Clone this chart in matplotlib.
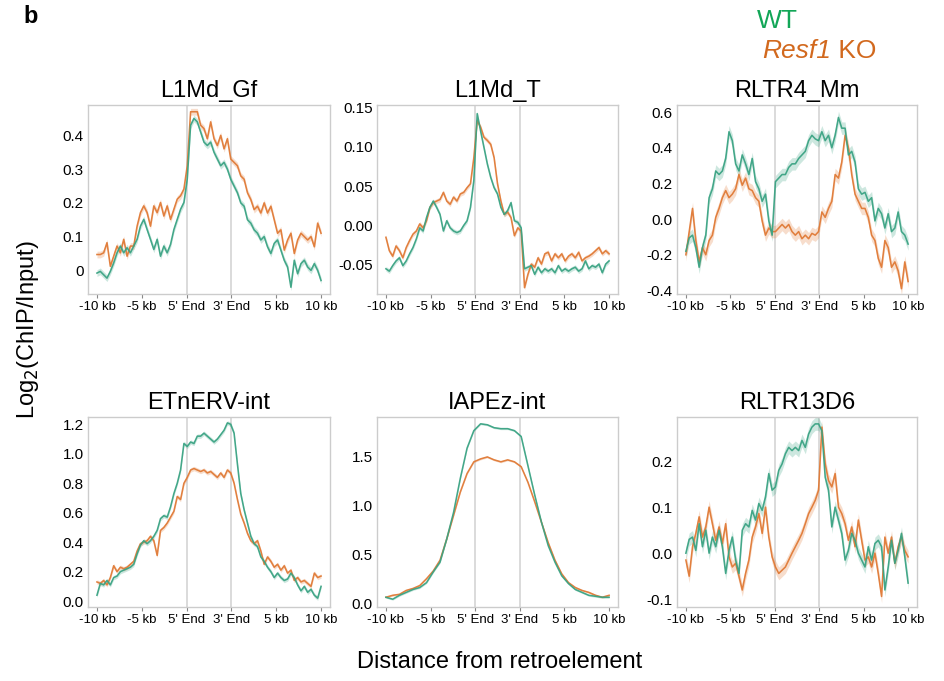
import numpy as np
import matplotlib
matplotlib.use("Agg")
import matplotlib.pyplot as plt
from matplotlib.text import Annotation

plt.rcParams['font.family'] = ['Liberation Sans', 'DejaVu Sans']

tick_labels = ["-10 kb", "-5 kb", "5' End", "3' End", "5 kb", "10 kb"]
titles = ["L1Md_Gf", "L1Md_T", "RLTR4_Mm", "ETnERV-int", "IAPEz-int", "RLTR13D6"]

gf_wt = [-0.008, -0.003, -0.013, -0.023, -0.003, 0.022, 0.052, 0.072, 0.052, 0.067, 0.052, 0.072,
         0.092, 0.131, 0.151, 0.121, 0.092, 0.062, 0.092, 0.042, 0.072, 0.052, 0.077, 0.121, 0.151,
         0.181, 0.201, 0.271, 0.43, 0.45, 0.44, 0.41, 0.38, 0.37, 0.38, 0.35, 0.33, 0.31, 0.32, 0.30,
         0.27, 0.25, 0.23, 0.20, 0.19, 0.15, 0.14, 0.12, 0.11, 0.09, 0.10, 0.07, 0.05, 0.08, 0.09,
         0.06, 0.03, 0.01, -0.05, 0.03, -0.01, 0.02, 0.03, 0.01, 0.00, 0.02, 0.00, -0.03]
gf_ko = [0.047, 0.047, 0.052, 0.082, 0.012, 0.042, 0.072, 0.052, 0.092, 0.042, 0.072, 0.072,
         0.131, 0.171, 0.191, 0.171, 0.131, 0.191, 0.171, 0.201, 0.161, 0.191, 0.151, 0.181, 0.211,
         0.221, 0.241, 0.31, 0.47, 0.47, 0.47, 0.43, 0.42, 0.39, 0.44, 0.39, 0.37, 0.40, 0.36, 0.39,
         0.33, 0.32, 0.31, 0.28, 0.27, 0.23, 0.21, 0.18, 0.19, 0.17, 0.20, 0.17, 0.19, 0.15, 0.11,
         0.12, 0.06, 0.09, 0.11, 0.05, 0.09, 0.11, 0.10, 0.09, 0.10, 0.07, 0.14, 0.11]

t_wt = [-0.055, -0.058, -0.051, -0.045, -0.041, -0.051, -0.045, -0.036, -0.028, -0.017, -0.003,
        -0.007, 0.010, 0.023, 0.031, 0.023, 0.014, -0.007, 0.006, -0.003, -0.007, -0.009, -0.007,
        0.000, 0.006, 0.023, 0.057, 0.142, 0.120, 0.099, 0.078, 0.061, 0.048, 0.040, 0.023, 0.014,
        0.019, 0.029, 0.006, 0.004, -0.003, -0.055, -0.053, -0.051, -0.062, -0.053, -0.060, -0.055,
        -0.058, -0.055, -0.060, -0.051, -0.058, -0.055, -0.058, -0.055, -0.053, -0.058, -0.055,
        -0.045, -0.055, -0.051, -0.053, -0.049, -0.060, -0.049, -0.045]
t_ko = [-0.015, -0.032, -0.039, -0.026, -0.032, -0.041, -0.028, -0.019, -0.011, -0.007, 0.002,
        -0.003, 0.006, 0.023, 0.029, 0.031, 0.033, 0.042, 0.031, 0.027, 0.036, 0.031, 0.040, 0.042,
        0.048, 0.053, 0.086, 0.133, 0.125, 0.112, 0.108, 0.103, 0.086, 0.053, 0.031, 0.014, 0.017,
        0.010, -0.013, -0.003, -0.007, -0.079, -0.062, -0.049, -0.053, -0.041, -0.049, -0.036,
        -0.034, -0.045, -0.036, -0.041, -0.036, -0.045, -0.039, -0.036, -0.041, -0.034, -0.045,
        -0.041, -0.039, -0.036, -0.032, -0.028, -0.036, -0.032, -0.036]

r4_wt = [-0.18, -0.105, -0.09, -0.16, -0.27, -0.16, -0.09, 0.12, 0.17, 0.27, 0.25, 0.27, 0.34,
         0.49, 0.44, 0.31, 0.27, 0.36, 0.31, 0.25, 0.34, 0.21, 0.17, 0.10, 0.14, -0.01, -0.09, 0.21,
         0.23, 0.25, 0.25, 0.29, 0.31, 0.31, 0.34, 0.36, 0.38, 0.44, 0.47, 0.45, 0.44, 0.49, 0.44,
         0.47, 0.40, 0.47, 0.57, 0.51, 0.51, 0.36, 0.38, 0.32, 0.17, 0.14, 0.15, 0.10, 0.12, -0.01,
         0.06, 0.03, -0.05, 0.03, -0.07, -0.05, 0.04, -0.07, -0.09, -0.14]
r4_ko = [-0.20, -0.07, 0.06, -0.12, -0.24, -0.16, -0.20, -0.12, -0.09, 0.01, 0.06, 0.12, 0.16,
         0.12, 0.14, 0.17, 0.25, 0.19, 0.23, 0.17, 0.16, 0.12, 0.10, -0.01, -0.09, -0.05, -0.07,
         -0.07, -0.05, -0.03, -0.05, -0.03, -0.07, -0.09, -0.07, -0.11, -0.09, -0.11, -0.08, -0.09,
         -0.07, 0.04, 0.01, 0.06, 0.10, 0.25, 0.23, 0.32, 0.47, 0.40, 0.25, 0.14, 0.10, 0.06, 0.06,
         0.01, -0.09, -0.12, -0.22, -0.27, -0.12, -0.16, -0.27, -0.24, -0.29, -0.39, -0.24, -0.35]

etn_wt = [0.04, 0.12, 0.11, 0.14, 0.11, 0.16, 0.17, 0.20, 0.21, 0.22, 0.23, 0.25, 0.32, 0.38,
          0.41, 0.39, 0.41, 0.44, 0.48, 0.56, 0.58, 0.57, 0.64, 0.73, 0.80, 0.89, 1.07, 1.05, 1.08,
          1.07, 1.12, 1.12, 1.14, 1.12, 1.10, 1.08, 1.10, 1.13, 1.16, 1.21, 1.20, 1.14, 0.93, 0.73,
          0.62, 0.53, 0.44, 0.39, 0.37, 0.30, 0.27, 0.23, 0.20, 0.16, 0.19, 0.16, 0.14, 0.15, 0.19,
          0.16, 0.11, 0.07, 0.10, 0.06, 0.08, 0.04, 0.02, 0.10]
etn_ko = [0.13, 0.12, 0.14, 0.11, 0.16, 0.24, 0.20, 0.23, 0.22, 0.23, 0.25, 0.27, 0.34, 0.39,
          0.40, 0.41, 0.44, 0.41, 0.31, 0.48, 0.50, 0.53, 0.57, 0.61, 0.71, 0.69, 0.80, 0.84, 0.89,
          0.90, 0.89, 0.88, 0.89, 0.87, 0.88, 0.86, 0.84, 0.87, 0.84, 0.89, 0.87, 0.80, 0.69, 0.59,
          0.53, 0.46, 0.41, 0.39, 0.41, 0.34, 0.25, 0.30, 0.27, 0.23, 0.25, 0.21, 0.24, 0.19, 0.21,
          0.14, 0.16, 0.13, 0.14, 0.12, 0.10, 0.19, 0.16, 0.17]

iap_wt = [0.06, 0.04, 0.08, 0.11, 0.14, 0.16, 0.21, 0.32, 0.42, 0.66, 0.93, 1.28, 1.59, 1.77,
          1.84, 1.83, 1.80, 1.79, 1.79, 1.77, 1.71, 1.41, 1.11, 0.83, 0.59, 0.42, 0.28, 0.20, 0.14,
          0.11, 0.08, 0.07, 0.06, 0.06]
iap_ko = [0.06, 0.08, 0.09, 0.13, 0.15, 0.18, 0.25, 0.33, 0.44, 0.66, 0.90, 1.14, 1.33, 1.45,
          1.48, 1.50, 1.47, 1.45, 1.47, 1.45, 1.40, 1.24, 1.04, 0.83, 0.62, 0.44, 0.30, 0.21, 0.16,
          0.13, 0.11, 0.08, 0.06, 0.08]

r13_wt = [0.00, 0.03, 0.035, 0.006, 0.064, 0.014, 0.05, 0.00, 0.035, 0.014, 0.05, 0.014, -0.044,
          0.006, 0.035, -0.015, -0.044, 0.05, 0.064, 0.057, 0.093, 0.072, 0.108, 0.093, 0.122,
          0.173, 0.137, 0.144, 0.18, 0.194, 0.216, 0.23, 0.223, 0.23, 0.223, 0.245, 0.23, 0.259,
          0.274, 0.281, 0.281, 0.266, 0.165, 0.137, 0.057, 0.100, 0.072, 0.043, -0.015, 0.006,
          0.043, 0.028, 0.00, -0.015, -0.03, 0.014, -0.015, 0.021, 0.028, 0.014, -0.08, -0.03,
          0.028, -0.022, 0.006, 0.043, -0.008, -0.065]
r13_ko = [-0.015, -0.05, 0.014, 0.043, 0.079, 0.035, 0.057, 0.100, 0.064, 0.028, 0.057, 0.021,
          0.064, -0.008, -0.03, -0.022, -0.05, -0.08, -0.044, -0.015, 0.035, 0.057, 0.086, 0.043,
          0.100, 0.035, -0.008, -0.03, -0.044, -0.037, -0.03, -0.015, 0.00, 0.014, 0.028, 0.043,
          0.064, 0.086, 0.100, 0.115, 0.137, 0.274, 0.194, 0.158, 0.144, 0.173, 0.100, 0.086,
          0.064, 0.028, 0.057, 0.014, 0.072, 0.028, -0.015, -0.008, -0.03, 0.00, -0.044, -0.094,
          0.035, 0.00, 0.035, -0.022, 0.014, 0.035, 0.006, -0.008]

wt_series = [gf_wt, t_wt, r4_wt, etn_wt, iap_wt, r13_wt]
ko_series = [gf_ko, t_ko, r4_ko, etn_ko, iap_ko, r13_ko]
band_half = [0.010, 0.003, 0.035, 0.015, 0.010, 0.014]
ylims = [(-0.07, 0.49), (-0.087, 0.153), (-0.42, 0.64), (-0.04, 1.25), (-0.04, 1.91), (-0.117, 0.296)]
yticks = [[0, 0.1, 0.2, 0.3, 0.4], [-0.05, 0, 0.05, 0.10, 0.15], [-0.4, -0.2, 0, 0.2, 0.4, 0.6],
          [0, 0.2, 0.4, 0.6, 0.8, 1.0, 1.2], [0, 0.5, 1.0, 1.5], [-0.1, 0, 0.1, 0.2]]
ytlabels = [["0", "0.1", "0.2", "0.3", "0.4"], ["-0.05", "0.00", "0.05", "0.10", "0.15"],
            ["-0.4", "-0.2", "0.0", "0.2", "0.4", "0.6"],
            ["0.0", "0.2", "0.4", "0.6", "0.8", "1.0", "1.2"], ["0.0", "0.5", "1.0", "1.5"],
            ["-0.1", "0.0", "0.1", "0.2"]]

WT_C = "#3aa383"
KO_C = "#e07a36"
W, H = 944, 681
fig = plt.figure(figsize=(W / 100, H / 100), dpi=100)

lefts = [88, 377, 677]
widths = [242, 241, 240]
tops = [105, 417]
heights = [189, 190]

for i in range(6):
    r, c = divmod(i, 3)
    ax = fig.add_axes([lefts[c] / W, 1 - (tops[r] + heights[r]) / H, widths[c] / W, heights[r] / H])
    for s, col in ((wt_series[i], WT_C), (ko_series[i], KO_C)):
        y = np.array(s)
        x = np.linspace(0, 5, len(y))
        ax.fill_between(x, y - band_half[i], y + band_half[i], color=col, alpha=0.25, lw=0)
    for s, col in ((ko_series[i], KO_C), (wt_series[i], WT_C)):
        y = np.array(s)
        x = np.linspace(0, 5, len(y))
        ax.plot(x, y, color=col, lw=1.15, alpha=0.95)
    ax.axvline(2, color="#d4d4d4", lw=1.2, zorder=0)
    ax.axvline(3, color="#d4d4d4", lw=1.2, zorder=0)
    ax.set_xlim(-0.2, 5.2)
    ax.set_ylim(*ylims[i])
    ax.set_xticks(range(6))
    ax.set_xticklabels(tick_labels, fontsize=9.5)
    ax.set_yticks(yticks[i])
    ax.set_yticklabels(ytlabels[i], fontsize=11)
    ax.tick_params(axis="x", length=3, width=0.8, color="#888888", pad=2)
    ax.tick_params(axis="y", length=0, pad=3)
    for sp in ax.spines.values():
        sp.set_color("#cccccc")
        sp.set_linewidth(1.0)
    ax.set_title(titles[i], fontsize=17, pad=6)

fig.text(23 / W, 1 - 23 / H, "b", fontsize=17, fontweight="bold", ha="left", va="baseline")
fig.text(28 / W, 1 - 330 / H, "Log$_2$(ChIP/Input)", fontsize=17, rotation=90, ha="center", va="center")
fig.text(500 / W, 1 - 668 / H, "Distance from retroelement", fontsize=17, ha="center", va="baseline")
fig.text(757 / W, 1 - 28 / H, "WT", fontsize=19, color="#12a657", ha="left", va="baseline")
t1 = fig.text(762 / W, 1 - 58 / H, "Resf1", fontsize=19, color="#d2691e", style="italic",
              ha="left", va="baseline")
ann = Annotation(" KO", xy=(1, 0), xycoords=t1, fontsize=19, color="#d2691e", va="bottom", ha="left")
fig.add_artist(ann)

fig.savefig("out.png", dpi=100)
